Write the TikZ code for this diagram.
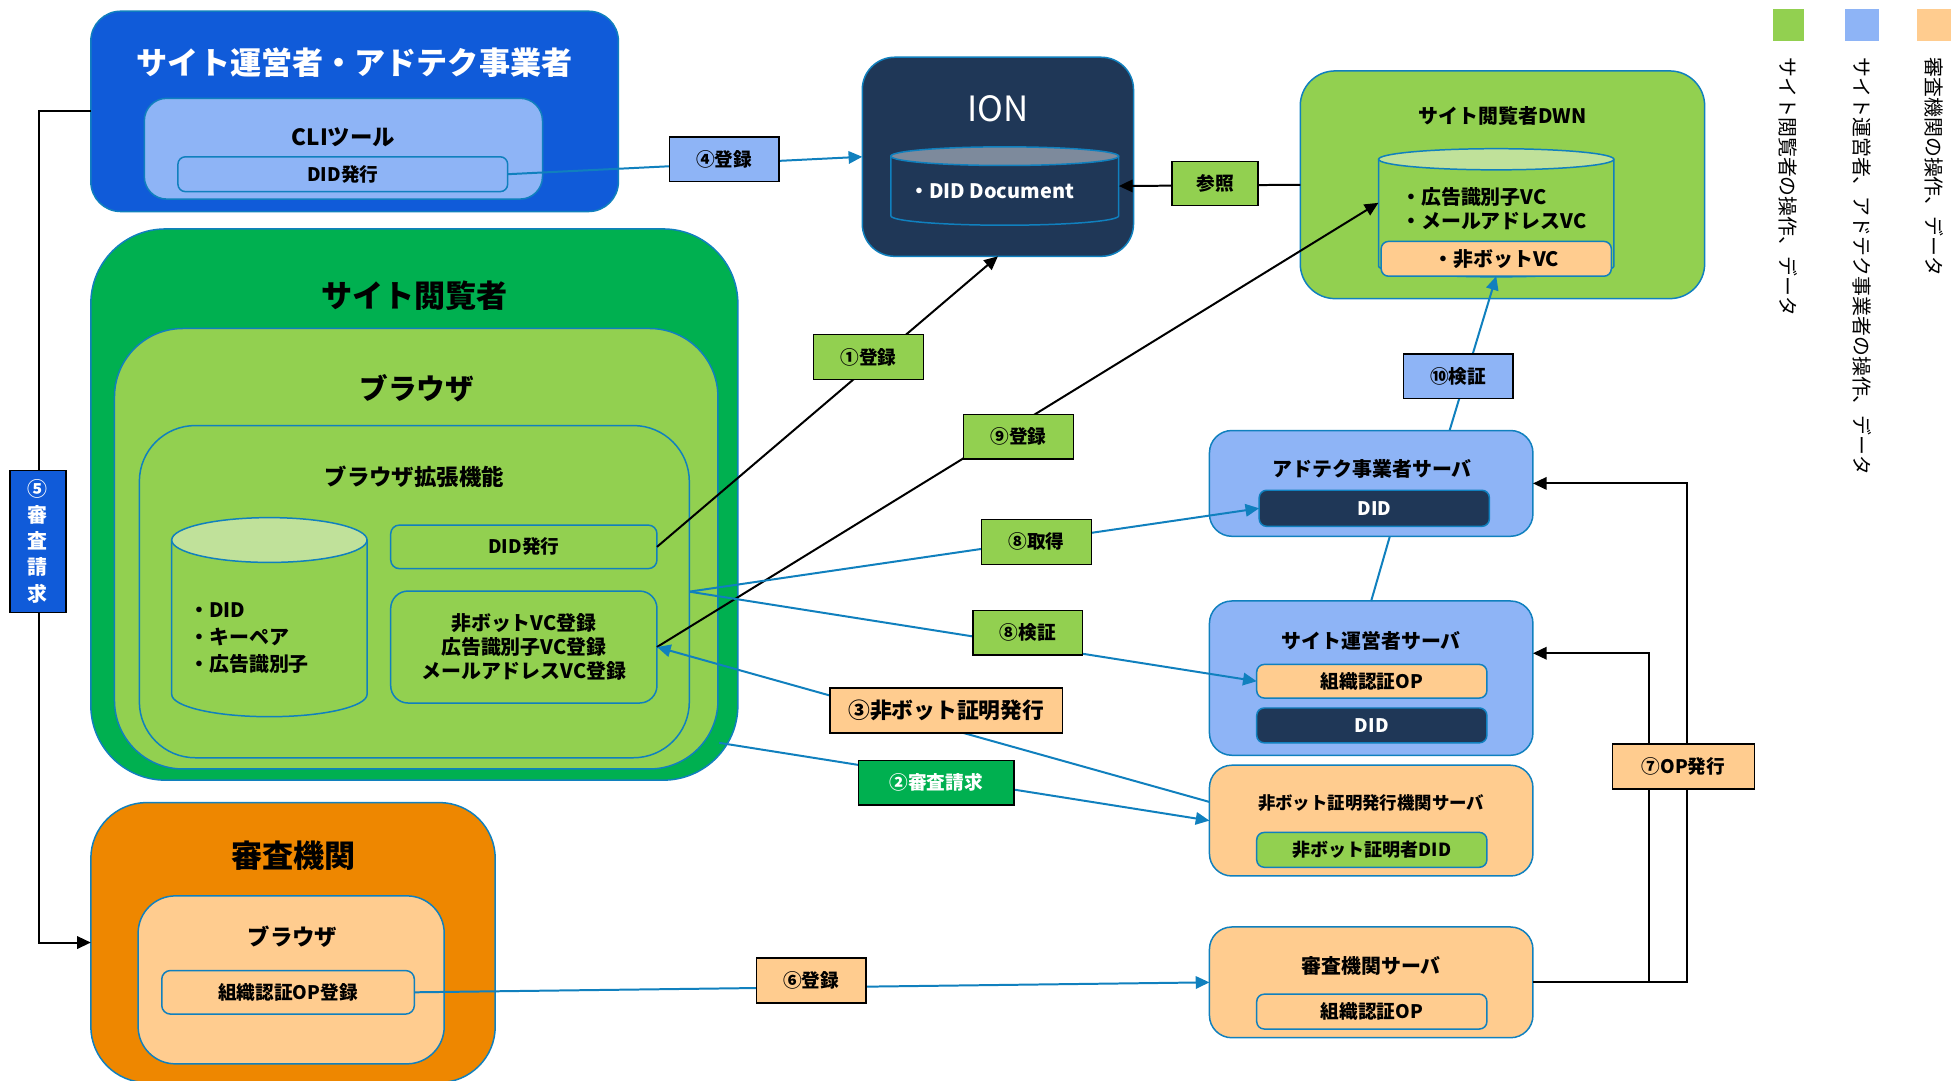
\documentclass[tikz,border=0pt]{standalone}
\usepackage{fontspec}
\setmainfont{Noto Sans CJK JP}
\usetikzlibrary{arrows.meta,calc}

\definecolor{opblue}{RGB}{16,91,217}
\definecolor{lblue}{RGB}{142,180,246}
\definecolor{navy}{RGB}{31,55,87}
\definecolor{vgreen}{RGB}{146,208,80}
\definecolor{dgreen}{RGB}{0,176,80}
\definecolor{pgreen}{RGB}{192,225,154}
\definecolor{korange}{RGB}{238,135,0}
\definecolor{lorange}{RGB}{255,204,143}
\definecolor{edge}{RGB}{16,128,190}
\definecolor{iongrey}{RGB}{125,138,156}

\newcommand\fsz[2]{\fontsize{#1}{#2}\selectfont}

\begin{document}
\begin{tikzpicture}[x=1pt,y=-1pt,
  cbox/.style={draw=edge, line width=1.2pt, inner sep=0pt, outer sep=0pt},
  ttl/.style={inner sep=0pt, font=\fsz{16}{19}\bfseries},
  lab/.style={draw=black, line width=1.1pt, inner sep=0pt, minimum width=88pt,
              minimum height=36pt, font=\fsz{15}{18}\bfseries},
  flowline/.style={draw=edge, line width=1.6pt},
  ctlline/.style={draw=black, line width=1.6pt},
  arr/.style={-{Triangle[length=11pt,width=10pt]}},
  dbside/.style={draw=edge, line width=1.2pt},
]
\useasboundingbox (0,0) rectangle (1568,868);
\clip (0,0) rectangle (1568,868);
\fill[white] (0,0) rectangle (1568,868);

% ---- site operator / ad-tech group ----
\node[cbox, fill=opblue, rounded corners=24pt, minimum width=424pt, minimum height=161pt] (opco) at (285,89.5) {};
\node[ttl, text=white, font=\fsz{25}{30}\bfseries] (opcot) at (285,50) {サイト運営者・アドテク事業者};
\node[cbox, fill=lblue, rounded corners=18pt, minimum width=320pt, minimum height=81pt] (cli) at (276,119.5) {};
\node[ttl, font=\fsz{18}{22}\bfseries] (clit) at (276,110) {CLIツール};
\node[cbox, fill=lblue, rounded corners=6pt, minimum width=265pt, minimum height=28pt, font=\fsz{15}{18}\bfseries] (clidid) at (275.5,140) {DID発行};

% ---- ION ----
\node[cbox, fill=navy, rounded corners=26pt, minimum width=218pt, minimum height=160pt] (ion) at (802,126) {};
\node[ttl, text=white, font=\fsz{28}{32}] (iont) at (802,87) {ION};
\filldraw[fill=navy, dbside] (716,125.5) -- (716,173.5) arc[start angle=180, end angle=360, x radius=91.5pt, y radius=7.5pt] -- (899,125.5) -- cycle;
\filldraw[fill=iongrey, dbside] (807.5,125.5) ellipse[x radius=91.5pt, y radius=7.5pt];
\node[inner sep=0pt, minimum width=183pt, minimum height=63pt] (iondb) at (807.5,149.5) {};
\node[ttl, text=white] (iondbt) at (797,154) {・DID Document};

% ---- viewer DWN ----
\node[cbox, fill=vgreen, rounded corners=28pt, minimum width=325pt, minimum height=183pt] (dwn) at (1207.5,148.5) {};
\node[ttl] (dwnt) at (1207.5,93) {サイト閲覧者DWN};
\filldraw[fill=vgreen, dbside] (1108,128) -- (1108,214) arc[start angle=180, end angle=360, x radius=94.5pt, y radius=8.5pt] -- (1297,128) -- cycle;
\filldraw[fill=pgreen, dbside] (1202.5,128) ellipse[x radius=94.5pt, y radius=8.5pt];
\node[inner sep=0pt, minimum width=189pt, minimum height=102pt] (dwndb) at (1202.5,171) {};
\node[ttl, anchor=west] (dwnv1) at (1126,158) {・広告識別子VC};
\node[ttl, anchor=west] (dwnv2) at (1126,178) {・メールアドレスVC};
\node[cbox, fill=lorange, rounded corners=6pt, minimum width=185pt, minimum height=28pt, font=\fsz{16}{19}\bfseries] (nbvc) at (1202.5,208) {・非ボットVC};

% ---- legend ----
\node[inner sep=0pt, minimum width=25pt, minimum height=26pt, fill=vgreen] (lgg) at (1437.5,20) {};
\node[inner sep=0pt, minimum width=27pt, minimum height=26pt, fill=lblue] (lgb) at (1496.5,20) {};
\node[inner sep=0pt, minimum width=27pt, minimum height=26pt, fill=lorange] (lgo) at (1554.5,20) {};
\node[rotate=-90, anchor=west, inner sep=0pt, font=\fsz{16}{19}] (lggt) at (1437.5,46) {サイト閲覧者の操作、データ};
\node[rotate=-90, anchor=west, inner sep=0pt, font=\fsz{16}{19}] (lgbt) at (1496.5,46) {サイト運営者、アドテク事業者の操作、データ};
\node[rotate=-90, anchor=west, inner sep=0pt, font=\fsz{16}{19}] (lgot) at (1554.5,46) {審査機関の操作、データ};

% ---- site viewer ----
\node[cbox, fill=dgreen, rounded corners=60pt, minimum width=520pt, minimum height=443pt] (viewer) at (333,405.5) {};
\node[ttl, font=\fsz{25}{30}\bfseries] (viewert) at (333,238) {サイト閲覧者};
\node[cbox, fill=vgreen, rounded corners=55pt, minimum width=485pt, minimum height=354pt] (browser) at (334.5,441) {};
\node[ttl, font=\fsz{23}{28}\bfseries] (browsert) at (335,312) {ブラウザ};
\node[cbox, fill=vgreen, rounded corners=45pt, minimum width=442pt, minimum height=267pt] (ext) at (333,475.5) {};
\node[ttl, font=\fsz{18}{22}\bfseries] (extt) at (333,383) {ブラウザ拡張機能};
\filldraw[fill=vgreen, dbside] (138,434) -- (138,558) arc[start angle=180, end angle=360, x radius=78.5pt, y radius=18pt] -- (295,434) -- cycle;
\filldraw[fill=pgreen, dbside] (216.5,434) ellipse[x radius=78.5pt, y radius=18pt];
\node[ttl, anchor=west, align=left, font=\fsz{16}{21.5}\bfseries] (bdbt) at (152,513) {・DID\\・キーペア\\・広告識別子};
\node[cbox, fill=vgreen, rounded corners=7pt, minimum width=214pt, minimum height=35pt, font=\fsz{15}{18}\bfseries] (extdid) at (421,439.5) {DID発行};
\node[cbox, fill=vgreen, rounded corners=14pt, minimum width=214pt, minimum height=90pt, align=center, font=\fsz{16}{19.5}\bfseries] (extvc) at (421,520) {非ボットVC登録\\広告識別子VC登録\\メールアドレスVC登録};

% ---- examination body ----
\node[cbox, fill=korange, rounded corners=45pt, minimum width=325pt, minimum height=225pt] (exam) at (235.5,757.5) {};
\node[ttl, font=\fsz{25}{30}\bfseries] (examt) at (236,688) {審査機関};
\node[cbox, fill=lorange, rounded corners=30pt, minimum width=246pt, minimum height=135pt] (exbr) at (234,787.5) {};
\node[ttl, font=\fsz{18}{22}\bfseries] (exbrt) at (235,753) {ブラウザ};
\node[cbox, fill=lorange, rounded corners=7pt, minimum width=203pt, minimum height=35pt, font=\fsz{15}{18}\bfseries] (exop) at (231.5,797.5) {組織認証OP登録};

% ---- servers ----
\node[cbox, fill=lblue, rounded corners=18pt, minimum width=260pt, minimum height=85pt] (adserver) at (1102,388.5) {};
\node[ttl] (adservert) at (1103,377) {アドテク事業者サーバ};
\node[cbox, fill=navy, rounded corners=6pt, minimum width=185pt, minimum height=29pt, text=white, font=\fsz{15}{18}\bfseries] (addid) at (1104.5,408.5) {DID};

\node[cbox, fill=lblue, rounded corners=18pt, minimum width=260pt, minimum height=124pt] (opserver) at (1102,545) {};
\node[ttl] (opservert) at (1102,515) {サイト運営者サーバ};
\node[cbox, fill=lorange, rounded corners=6pt, minimum width=185pt, minimum height=27pt, font=\fsz{15}{18}\bfseries] (opop) at (1102.5,547.5) {組織認証OP};
\node[cbox, fill=navy, rounded corners=6pt, minimum width=185pt, minimum height=28pt, text=white, font=\fsz{15}{18}\bfseries] (opdid) at (1102.5,583) {DID};

\node[cbox, fill=lorange, rounded corners=18pt, minimum width=260pt, minimum height=89pt] (nbserver) at (1102,659.5) {};
\node[ttl, font=\fsz{14}{17}\bfseries] (nbservert) at (1102,645) {非ボット証明発行機関サーバ};
\node[cbox, fill=vgreen, rounded corners=6pt, minimum width=185pt, minimum height=28pt, font=\fsz{14.5}{17}\bfseries] (nbdid) at (1102.5,683) {非ボット証明者DID};

\node[cbox, fill=lorange, rounded corners=18pt, minimum width=260pt, minimum height=89pt] (exserver) at (1102,789.5) {};
\node[ttl] (exservert) at (1102,776) {審査機関サーバ};
\node[cbox, fill=lorange, rounded corners=6pt, minimum width=185pt, minimum height=28pt, font=\fsz{15}{18}\bfseries] (exsop) at (1102.5,813) {組織認証OP};

% ---- connectors ----
\draw[flowline, arr] (clidid.east) -- (ion.west);
\draw[ctlline, arr] (dwn.west) -- (iondb.east);
\draw[ctlline, arr] (extdid.east) -- (ion.south);
\draw[ctlline, arr] (extvc.east) -- ($(dwndb.west)+(0,-8)$);
\draw[flowline, arr] (ext.east) -- (addid.west);
\draw[flowline, arr] (ext.east) -- (opop.west);
\draw[flowline, arr] ($(nbserver.west)+(0,-15)$) -- (extvc.east);
\coordinate (viewerexit) at ($(viewer.south east)+(-15,-30)$);
\draw[flowline, arr] (viewerexit) -- (nbserver.west);
\draw[flowline, arr] (exop.east) -- (exserver.west);
\draw[flowline, arr] ($(adserver.north)+(63,0)$) -- (nbvc.south);
\draw[flowline] ($(adserver.south)+(15,0)$) -- (opserver.north);
\draw[ctlline, arr] (opco.west) -- ++(-42,0) |- (exam.west);
\draw[ctlline, arr] (exserver.east) -| ($(adserver.east)+(124,0)$) -- (adserver.east);
\draw[ctlline, arr] (exserver.east) -| ($(opserver.east)+(93,-20)$) -- ($(opserver.east)+(0,-20)$);

% ---- step labels ----
\node[lab, fill=lblue] (l4) at (582,128) {④登録};
\node[lab, fill=vgreen] (l1) at (698,287) {①登録};
\node[lab, fill=vgreen] (l9) at (818.5,351) {⑨登録};
\node[lab, fill=vgreen] (l8a) at (833,435.5) {⑧取得};
\node[lab, fill=vgreen] (l8b) at (826,508.5) {⑧検証};
\node[lab, fill=lorange, minimum width=187pt, font=\fsz{17.5}{21}\bfseries] (l3) at (760.5,571) {③非ボット証明発行};
\node[lab, fill=dgreen, text=white, minimum width=125pt] (l2) at (752.5,629) {②審査請求};
\node[lab, fill=lorange] (l6) at (652,788) {⑥登録};
\node[lab, fill=lblue] (l10) at (1172,302.5) {⑩検証};
\node[lab, fill=lorange, minimum width=114pt] (l7) at (1353,616) {⑦OP発行};
\node[lab, fill=vgreen, minimum width=69pt, minimum height=35pt] (lref) at (976.5,147.5) {参照};
\node[lab, fill=opblue, text=white, minimum width=45pt, minimum height=114pt, align=center, font=\fsz{16}{21}\bfseries] (l5) at (30.5,435) {⑤\\審\\査\\請\\求};
\end{tikzpicture}
\end{document}
